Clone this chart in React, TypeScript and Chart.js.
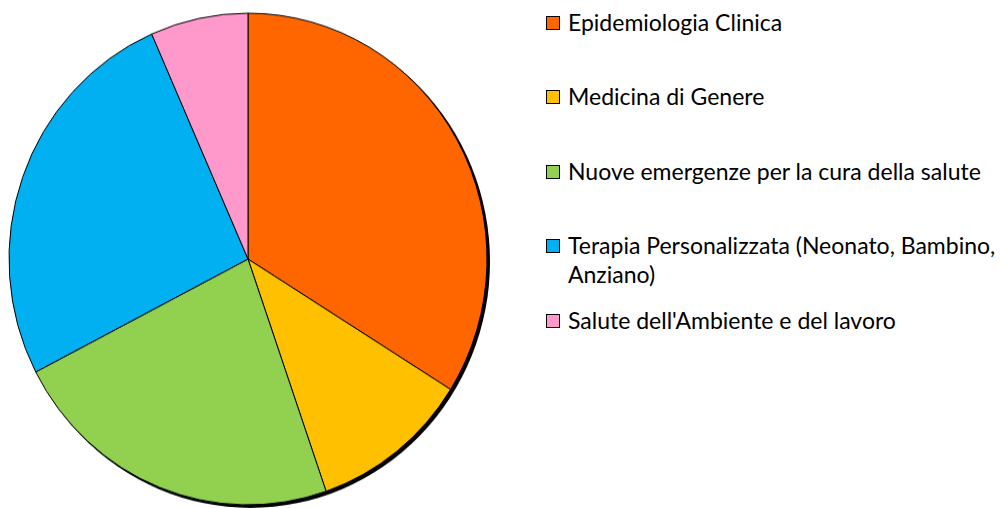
import React, { useEffect, useRef } from "react";
import { Chart, registerables } from "chart.js";

Chart.register(...registerables);

const labels = [
  "Epidemiologia Clinica",
  "Medicina di Genere",
  "Nuove emergenze per la cura della salute",
  "Terapia Personalizzata (Neonato, Bambino, Anziano)",
  "Salute dell'Ambiente e del lavoro",
];
const values = [33.9, 10.8, 22.7, 26.0, 6.6];
const colors = ["#FF6600", "#FFC000", "#92D050", "#00B0F0", "#FF99CC"];

const FONT = "Lato, 'Open Sans', sans-serif";

const shadowPlugin = {
  id: "pieShadow",
  beforeDatasetsDraw(chart: any) {
    const meta = chart.getDatasetMeta(0);
    const arc = meta && meta.data && meta.data[0];
    if (!arc) return;
    const ctx = chart.ctx;
    ctx.save();
    ctx.fillStyle = "#000";
    ctx.beginPath();
    ctx.arc(arc.x + 2.5, arc.y + 2.4, arc.outerRadius + 0.5, 0, Math.PI * 2);
    ctx.fill();
    ctx.restore();
  },
};

export default function App() {
  const ref = useRef<HTMLCanvasElement | null>(null);

  useEffect(() => {
    if (!ref.current) return;
    const chart = new Chart(ref.current, {
      type: "pie",
      data: {
        labels,
        datasets: [
          {
            data: values,
            backgroundColor: colors,
            borderColor: "#000000",
            borderWidth: 1,
          },
        ],
      },
      options: {
        animation: false,
        responsive: false,
        maintainAspectRatio: false,
        devicePixelRatio: 1,
        radius: 239,
        rotation: 0,
        layout: { padding: 0 },
        plugins: {
          legend: { display: false },
          tooltip: { enabled: false },
        },
      } as any,
      plugins: [shadowPlugin],
    });
    return () => chart.destroy();
  }, []);

  const pitch = 74.4;

  return (
    <div
      style={{
        position: "fixed",
        left: 0,
        top: 0,
        width: 1001,
        height: 508,
        background: "#fff",
        overflow: "hidden",
      }}
    >
      <canvas
        ref={ref}
        width={490}
        height={490}
        style={{
          position: "absolute",
          left: 3,
          top: 6.5,
          width: 490,
          height: 504,
        }}
      />
      {labels.map((label, i) => (
        <React.Fragment key={label}>
          <div
            style={{
              position: "absolute",
              left: 546,
              top: 16 + i * pitch,
              width: 12,
              height: 12,
              border: "1px solid #000",
              background: colors[i],
            }}
          />
          <div
            style={{
              position: "absolute",
              left: 568,
              top: 7.9 + i * pitch,
              width: 440,
              fontFamily: FONT,
              fontSize: 23,
              lineHeight: "29px",
              color: "#000",
              whiteSpace: "normal",
            }}
          >
            {label}
          </div>
        </React.Fragment>
      ))}
    </div>
  );
}
